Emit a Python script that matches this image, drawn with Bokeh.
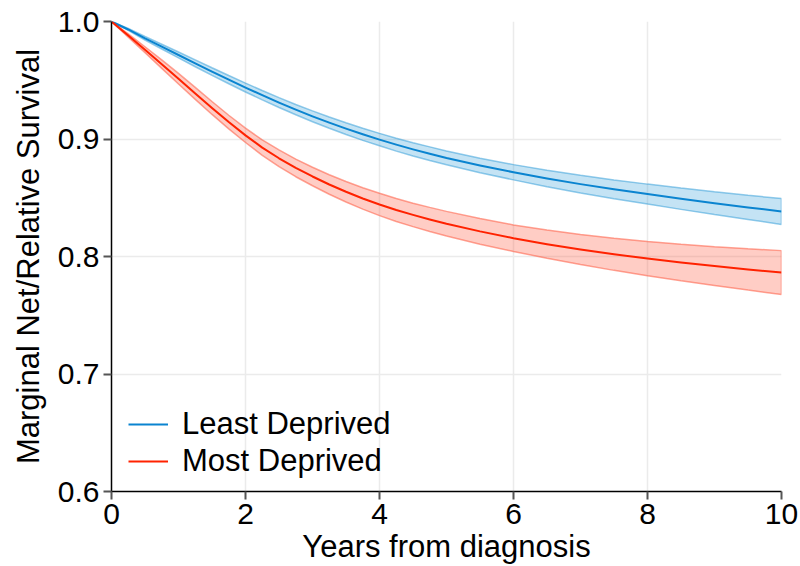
from bokeh.plotting import figure
from bokeh.models import Range1d, FixedTicker, Legend, LegendItem
from bokeh.embed import file_html
from bokeh.resources import INLINE

years = [0.0, 0.25, 0.5, 0.75, 1.0, 1.25, 1.5, 1.75, 2.0, 2.25, 2.5, 2.75, 3.0, 3.25, 3.5, 3.75,
         4.0, 4.25, 4.5, 4.75, 5.0, 5.5, 6.0, 6.5, 7.0, 7.5, 8.0, 8.5, 9.0, 9.5, 10.0]

least_mean = [1.0, 0.9932, 0.9857, 0.9786, 0.9715, 0.9644, 0.9574, 0.9505, 0.9438, 0.9373, 0.9310,
              0.9250, 0.9193, 0.9139, 0.9088, 0.9040, 0.8995, 0.8952, 0.8912, 0.8875, 0.8839,
              0.8775, 0.8717, 0.8664, 0.8616, 0.8572, 0.8531, 0.8492, 0.8454, 0.8418, 0.8383]
least_upper = [1.0, 0.9940, 0.9872, 0.9806, 0.9740, 0.9673, 0.9606, 0.9540, 0.9476, 0.9413, 0.9352,
               0.9294, 0.9239, 0.9187, 0.9138, 0.9092, 0.9048, 0.9007, 0.8968, 0.8933, 0.8898,
               0.8837, 0.8782, 0.8734, 0.8691, 0.8652, 0.8616, 0.8583, 0.8551, 0.8521, 0.8493]
least_lower = [1.0, 0.9924, 0.9842, 0.9766, 0.9690, 0.9615, 0.9542, 0.9470, 0.9400, 0.9333, 0.9268,
               0.9206, 0.9147, 0.9091, 0.9038, 0.8988, 0.8942, 0.8897, 0.8856, 0.8817, 0.8780,
               0.8713, 0.8652, 0.8594, 0.8541, 0.8492, 0.8446, 0.8401, 0.8357, 0.8315, 0.8273]

most_mean = [1.0, 0.9881, 0.9760, 0.9637, 0.9513, 0.9388, 0.9264, 0.9144, 0.9031, 0.8927, 0.8836,
             0.8754, 0.8681, 0.8613, 0.8551, 0.8494, 0.8443, 0.8396, 0.8354, 0.8315, 0.8279,
             0.8214, 0.8156, 0.8105, 0.8060, 0.8019, 0.7982, 0.7949, 0.7919, 0.7890, 0.7863]
most_upper = [1.0, 0.9895, 0.9785, 0.9673, 0.9558, 0.9439, 0.9319, 0.9202, 0.9092, 0.8993, 0.8907,
              0.8829, 0.8760, 0.8696, 0.8638, 0.8585, 0.8538, 0.8494, 0.8454, 0.8418, 0.8384,
              0.8323, 0.8269, 0.8225, 0.8188, 0.8156, 0.8128, 0.8104, 0.8084, 0.8066, 0.8050]
most_lower = [1.0, 0.9867, 0.9735, 0.9601, 0.9468, 0.9337, 0.9209, 0.9086, 0.8970, 0.8861, 0.8765,
              0.8679, 0.8602, 0.8530, 0.8464, 0.8403, 0.8348, 0.8298, 0.8254, 0.8212, 0.8174,
              0.8105, 0.8043, 0.7985, 0.7932, 0.7882, 0.7836, 0.7794, 0.7754, 0.7714, 0.7676]

x_ticks = [0, 2, 4, 6, 8, 10]
y_ticks = [0.6, 0.7, 0.8, 0.9, 1.0]
y_tick_labels = ["0.6", "0.7", "0.8", "0.9", "1.0"]
series_names = ["Least Deprived", "Most Deprived"]

FONT = "Liberation Sans"
BLUE = "#0a84d0"
BLUE_BAND = "#2a9ad8"
RED = "#ff2200"
RED_BAND = "#ff5a40"

p = figure(width=800, height=566, output_backend="svg", toolbar_location=None,
           x_range=Range1d(0, 10), y_range=Range1d(0.6, 1.0),
           min_border_left=111, min_border_right=19, min_border_top=21, min_border_bottom=74)
p.outline_line_color = None
p.background_fill_color = "white"
p.border_fill_color = "white"

# confidence bands
p.patch(years + years[::-1], least_upper + least_lower[::-1],
        fill_color=BLUE_BAND, fill_alpha=0.28, line_color=BLUE_BAND, line_alpha=0.5, line_width=1.5)
p.patch(years + years[::-1], most_upper + most_lower[::-1],
        fill_color=RED_BAND, fill_alpha=0.3, line_color=RED_BAND, line_alpha=0.55, line_width=1.5)

l1 = p.line(years, least_mean, line_color=BLUE, line_width=2, line_join="round")
l2 = p.line(years, most_mean, line_color=RED, line_width=2, line_join="round")

# axes
p.xaxis.ticker = FixedTicker(ticks=x_ticks)
p.yaxis.ticker = FixedTicker(ticks=y_ticks)
p.yaxis.major_label_overrides = {t: s for t, s in zip(y_ticks, y_tick_labels)}
p.xaxis.axis_label = "Years from diagnosis"
p.yaxis.axis_label = "Marginal Net/Relative Survival"
for ax in (p.xaxis, p.yaxis):
    ax.axis_label_text_font = FONT
    ax.axis_label_text_font_size = "31px"
    ax.axis_label_text_font_style = "normal"
    ax.axis_label_text_color = "black"
    ax.major_label_text_font = FONT
    ax.major_label_text_font_size = "30px"
    ax.major_label_text_color = "black"
    ax.axis_line_color = "black"
    ax.axis_line_width = 1.5
    ax.major_tick_line_color = "#555555"
    ax.major_tick_line_width = 2
    ax.major_tick_out = 8
    ax.major_tick_in = 0
    ax.minor_tick_line_color = None
    ax.major_label_standoff = 4
p.xaxis.axis_label_standoff = 2
p.yaxis.axis_label_standoff = 9

p.xgrid.ticker = FixedTicker(ticks=x_ticks)
p.ygrid.ticker = FixedTicker(ticks=y_ticks)
p.grid.grid_line_color = "#ebebeb"
p.grid.grid_line_width = 1.5

legend = Legend(items=[LegendItem(label=series_names[0], renderers=[l1]),
                       LegendItem(label=series_names[1], renderers=[l2])],
                location=(17, 12))
legend.background_fill_alpha = 0
legend.border_line_color = None
legend.padding = 0
legend.margin = 0
legend.spacing = 1
legend.glyph_width = 40
legend.glyph_height = 32
legend.label_height = 32
legend.label_standoff = 14
legend.label_text_font = FONT
legend.label_text_font_size = "31px"
legend.label_text_color = "black"
p.add_layout(legend, "center")

open("out.html", "w").write(file_html(p, INLINE))
